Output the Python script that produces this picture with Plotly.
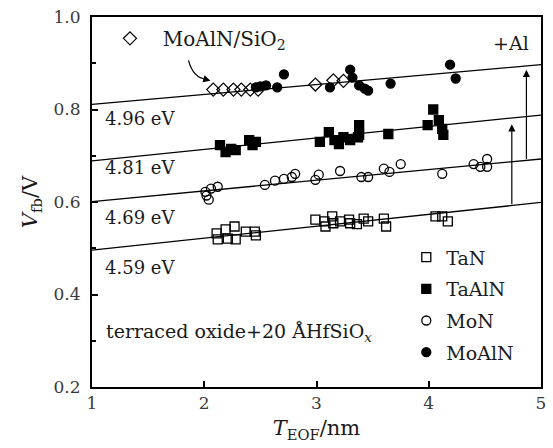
import plotly.graph_objects as go

# Flat-band voltage vs. equivalent oxide thickness for four metal gates
tan_x = [2.11, 2.12, 2.19, 2.21, 2.27, 2.28, 2.37, 2.45, 2.46, 2.99, 3.07, 3.08, 3.14,
         3.15, 3.21, 3.29, 3.30, 3.36, 3.42, 3.46, 3.60, 3.62, 4.06, 4.12, 4.17]
tan_y = [0.532, 0.519, 0.541, 0.521, 0.547, 0.519, 0.536, 0.536, 0.528, 0.562, 0.558,
         0.547, 0.569, 0.554, 0.558, 0.562, 0.554, 0.552, 0.564, 0.558, 0.564, 0.547,
         0.569, 0.569, 0.558]

taaln_x = [2.14, 2.19, 2.24, 2.28, 2.40, 2.43, 2.46, 3.03, 3.11, 3.16, 3.20, 3.24, 3.30,
           3.37, 3.38, 3.38, 3.64, 3.99, 4.04, 4.09, 4.12, 4.13]
taaln_y = [0.723, 0.708, 0.715, 0.712, 0.734, 0.723, 0.730, 0.730, 0.751, 0.734, 0.725,
           0.740, 0.734, 0.740, 0.766, 0.745, 0.747, 0.766, 0.800, 0.777, 0.758, 0.745]

mon_x = [2.01, 2.04, 2.02, 2.06, 2.12, 2.54, 2.63, 2.71, 2.78, 2.81, 2.99, 3.02, 3.21,
         3.40, 3.46, 3.60, 3.65, 3.75, 4.12, 4.40, 4.46, 4.52, 4.52]
mon_y = [0.622, 0.605, 0.614, 0.629, 0.633, 0.637, 0.646, 0.650, 0.654, 0.661, 0.648,
         0.659, 0.667, 0.654, 0.654, 0.672, 0.665, 0.682, 0.661, 0.682, 0.676, 0.693, 0.676]

moaln_x = [2.46, 2.50, 2.55, 2.65, 2.71, 3.12, 3.30, 3.32, 3.38, 3.43, 3.46, 3.66, 4.19, 4.24]
moaln_y = [0.848, 0.850, 0.852, 0.848, 0.876, 0.848, 0.886, 0.869, 0.852, 0.845, 0.841,
           0.856, 0.897, 0.867]

sio2_x = [2.08, 2.17, 2.26, 2.33, 2.41, 2.48, 2.99, 3.15, 3.24]
sio2_y = [0.843, 0.843, 0.843, 0.843, 0.843, 0.843, 0.854, 0.863, 0.862]

# Linear fits: value at T_EOF = 1 nm and 5 nm
fit_x = [1.0, 5.0]
fit_tan = [0.496, 0.599]
fit_mon = [0.601, 0.693]
fit_taaln = [0.689, 0.788]
fit_moaln = [0.811, 0.897]

# Work-function labels for each fitted line
wf_labels = ["4.96 eV", "4.81 eV", "4.69 eV", "4.59 eV"]
wf_label_y = [0.781, 0.674, 0.567, 0.459]

FONT = "DejaVu Serif"
INK = "#1a1a1a"
GREY = "#3a3a3a"

fig = go.Figure()

for fy in [fit_tan, fit_mon, fit_taaln, fit_moaln]:
    fig.add_trace(go.Scatter(x=fit_x, y=fy, mode="lines", showlegend=False,
                             line=dict(color="black", width=1.3), hoverinfo="skip"))

series = [
    ("TaN", tan_x, tan_y, "square-open"),
    ("TaAlN", taaln_x, taaln_y, "square"),
    ("MoN", mon_x, mon_y, "circle-open"),
    ("MoAlN", moaln_x, moaln_y, "circle"),
]
for i, (name, xs, ys, sym) in enumerate(series):
    fig.add_trace(go.Scatter(
        x=xs, y=ys, mode="markers", name=name, legendgroup=f"g{i}",
        marker=dict(symbol=sym, size=9, color="black",
                    line=dict(color="black", width=1.3)),
    ))

fig.add_trace(go.Scatter(
    x=sio2_x, y=sio2_y, mode="markers", name="&nbsp;&nbsp;MoAlN/SiO<sub>2</sub>",
    legend="legend2",
    marker=dict(symbol="diamond-open", size=10, color="black",
                line=dict(color="black", width=1.2)),
))

annotations = []
for txt, yv in zip(wf_labels, wf_label_y):
    annotations.append(dict(x=1.1, y=yv, xref="x", yref="y", text=txt, showarrow=False,
                            xanchor="left", yanchor="middle",
                            font=dict(family=FONT, size=18, color=INK)))

annotations.append(dict(x=4.91, y=0.944, xref="x", yref="y", text="+Al", showarrow=False,
                        xanchor="right", yanchor="middle",
                        font=dict(family=FONT, size=19, color=INK)))
annotations.append(dict(x=1.11, y=0.317, xref="x", yref="y",
                        text="terraced oxide+20 ÅHfSiO<sub><i>x</i></sub>",
                        showarrow=False, xanchor="left", yanchor="middle",
                        font=dict(family=FONT, size=19, color=INK)))

# Vertical arrows showing the shift from Al incorporation
annotations.append(dict(x=4.74, y=0.768, ax=4.74, ay=0.592, xref="x", yref="y",
                        axref="x", ayref="y", text="", showarrow=True,
                        arrowhead=2, arrowsize=1.2, arrowwidth=1.2, arrowcolor="black"))
annotations.append(dict(x=4.87, y=0.886, ax=4.87, ay=0.690, xref="x", yref="y",
                        axref="x", ayref="y", text="", showarrow=True,
                        arrowhead=2, arrowsize=1.2, arrowwidth=1.2, arrowcolor="black"))
# Head of the curved pointer to the SiO2 reference points
annotations.append(dict(x=2.055, y=0.862, ax=2.0, ay=0.866, xref="x", yref="y",
                        axref="x", ayref="y", text="", showarrow=True,
                        arrowhead=2, arrowsize=1.2, arrowwidth=1.2, arrowcolor="black"))

fig.add_shape(type="path", xref="x", yref="y",
              path="M 1.86,0.906 Q 1.90,0.868 2.02,0.865",
              line=dict(color="black", width=1.2))

fig.update_layout(
    width=553, height=448,
    margin=dict(l=92, r=7, t=14, b=61),
    paper_bgcolor="white", plot_bgcolor="white",
    font=dict(family=FONT, size=17, color=INK),
    annotations=annotations,
    legend=dict(x=0.70, y=0.402, xanchor="left", yanchor="top",
                bgcolor="rgba(0,0,0,0)", tracegroupgap=4,
                font=dict(family=FONT, size=19, color=INK)),
    legend2=dict(x=0.04, y=0.995, xanchor="left", yanchor="top",
                 bgcolor="rgba(0,0,0,0)",
                 font=dict(family=FONT, size=20, color=INK)),
)

fig.update_xaxes(range=[1, 5], tickvals=[1, 2, 3, 4, 5], ticks="inside", ticklen=6,
                 tickwidth=1.5, tickcolor="black", showline=True, linewidth=2,
                 linecolor="black", mirror=True, showgrid=False, zeroline=False,
                 tickfont=dict(family=FONT, size=17, color=GREY),
                 title=dict(text="<i>T</i><sub>EOF</sub>/nm", standoff=8,
                            font=dict(family=FONT, size=21, color=INK)))
fig.update_yaxes(range=[0.2, 1.0], tickvals=[0.2, 0.4, 0.6, 0.8, 1.0],
                 tickformat=".1f", ticks="inside", ticklen=6, tickwidth=1.5,
                 tickcolor="black", showline=True, linewidth=2, linecolor="black",
                 mirror=True, showgrid=False, zeroline=False,
                 minor=dict(ticks="inside", dtick=0.1, ticklen=4, tickcolor="black"),
                 ticklabelstandoff=6,
                 tickfont=dict(family=FONT, size=17, color=GREY),
                 title=dict(text="<i>V</i><sub>fb</sub>/V", standoff=10,
                            font=dict(family=FONT, size=21, color=INK)))

fig.write_html("out.html")
